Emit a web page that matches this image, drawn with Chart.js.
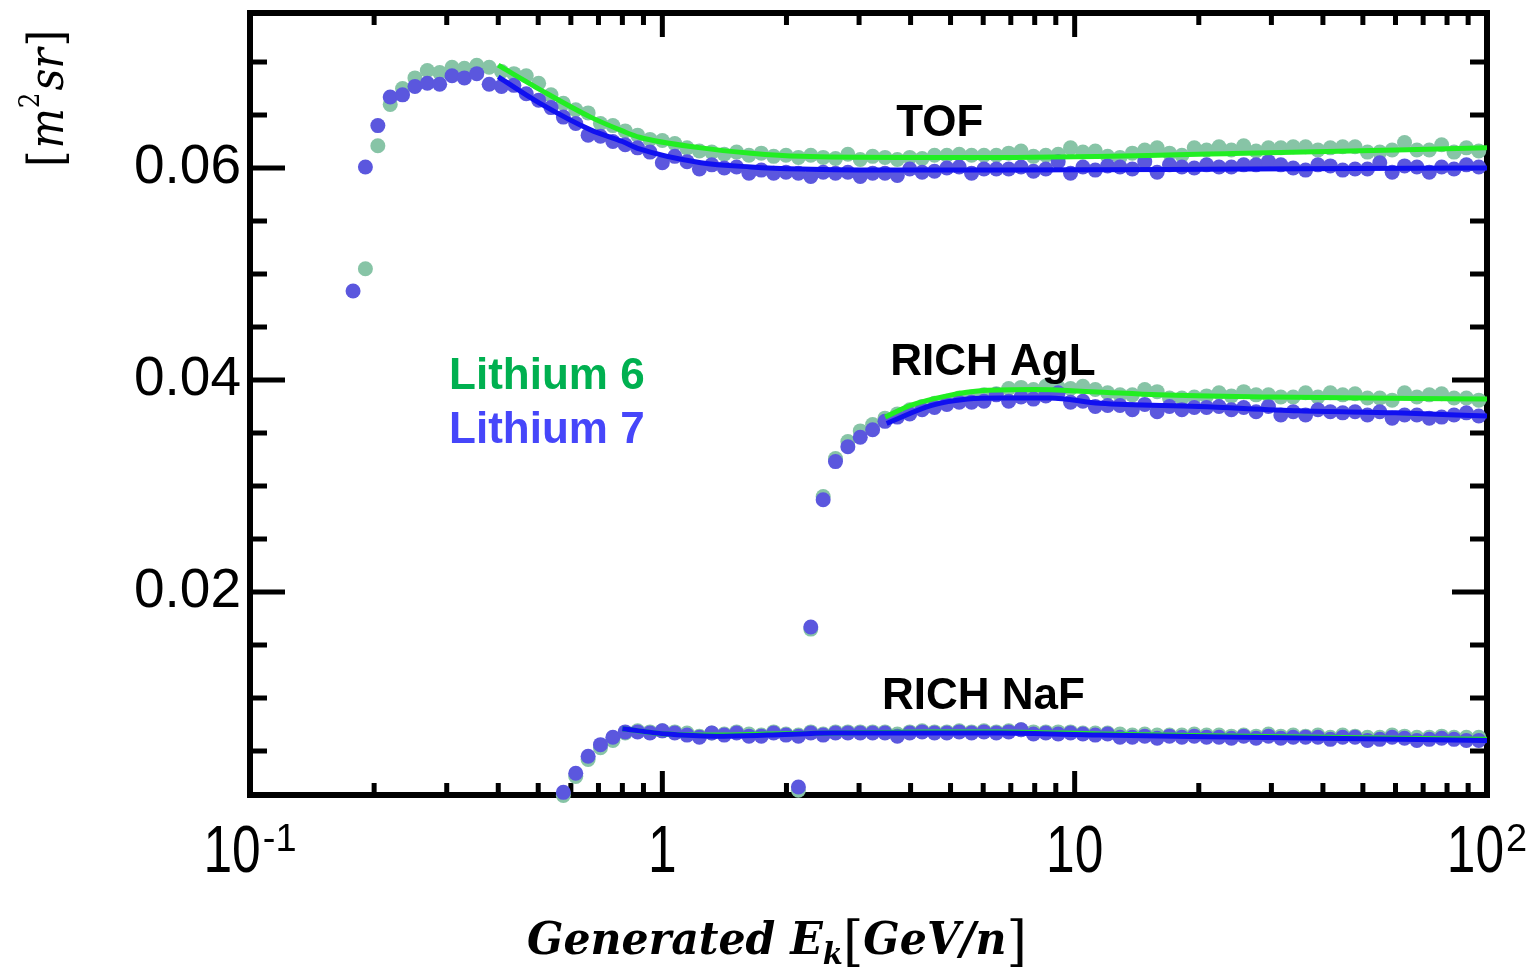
<!DOCTYPE html>
<html>
<head>
<meta charset="utf-8">
<title>Lithium isotopes acceptance</title>
<script src="https://cdn.jsdelivr.net/npm/chart.js@4.4.1/dist/chart.umd.min.js"></script>
<style>
  html, body { margin: 0; padding: 0; background: #ffffff; overflow: hidden; }
  canvas { display: block; }
</style>
</head>
<body>
<canvas id="chart" width="1533" height="968"></canvas>
<script>
// Bin centres of generated kinetic energy, GeV/n
const energy = [
  0.1778, 0.1905, 0.2042, 0.2188, 0.2344, 0.2512, 0.2692, 0.2884, 0.3090, 0.3311,
  0.3548, 0.3802, 0.4074, 0.4365, 0.4677, 0.5012, 0.5370, 0.5754, 0.6166, 0.6607,
  0.7079, 0.7586, 0.8128, 0.8710, 0.9333, 1.000, 1.072, 1.148, 1.230, 1.318,
  1.413, 1.514, 1.622, 1.738, 1.862, 1.995, 2.138, 2.291, 2.455, 2.630,
  2.818, 3.020, 3.236, 3.467, 3.715, 3.981, 4.266, 4.571, 4.898, 5.248,
  5.623, 6.026, 6.457, 6.918, 7.413, 7.943, 8.511, 9.120, 9.772, 10.47,
  11.22, 12.02, 12.88, 13.80, 14.79, 15.85, 16.98, 18.20, 19.50, 20.89,
  22.39, 23.99, 25.70, 27.54, 29.51, 31.62, 33.88, 36.31, 38.90, 41.69,
  44.67, 47.86, 51.29, 54.95, 58.88, 63.10, 67.61, 72.44, 77.62, 83.18,
  89.13, 95.50
];

// Acceptance [m^2 sr] per bin, TOF selection
const tofLi6 = [
  null, 0.0505, 0.0621, 0.0660, 0.0675, 0.0685, 0.0692, 0.0690, 0.0695, 0.0694,
  0.0697, 0.0695, 0.0691, 0.0689, 0.0687, 0.0680, 0.0669, 0.0661, 0.0655, 0.0652,
  0.0642, 0.0640, 0.0635, 0.0631, 0.0627, 0.0626, 0.0623, 0.0619, 0.0616, 0.0615,
  0.0613, 0.0615, 0.0612, 0.0614, 0.0611, 0.0612, 0.0610, 0.0612, 0.0610, 0.0609,
  0.0613, 0.0608, 0.0611, 0.0610, 0.0608, 0.0610, 0.0609, 0.0612, 0.0612, 0.0613,
  0.0612, 0.0612, 0.0612, 0.0614, 0.0616, 0.0611, 0.0612, 0.0613, 0.0619, 0.0615,
  0.0616, 0.0611, 0.0610, 0.0614, 0.0617, 0.0619, 0.0614, 0.0612, 0.0619, 0.0617,
  0.0620, 0.0617, 0.0621, 0.0616, 0.0619, 0.0619, 0.0620, 0.0620, 0.0617, 0.0619,
  0.0620, 0.0620, 0.0615, 0.0615, 0.0617, 0.0624, 0.0617, 0.0617, 0.0622, 0.0615,
  0.0619, 0.0616
];
const tofLi7 = [
  0.0484, 0.0601, 0.0640, 0.0667, 0.0669, 0.0677, 0.0680, 0.0679, 0.0687, 0.0685,
  0.0689, 0.0679, 0.0677, 0.0678, 0.0670, 0.0664, 0.0657, 0.0648, 0.0642, 0.0631,
  0.0630, 0.0625, 0.0622, 0.0619, 0.0615, 0.0605, 0.0611, 0.0606, 0.0599, 0.0603,
  0.0600, 0.0601, 0.0595, 0.0598, 0.0595, 0.0596, 0.0595, 0.0592, 0.0596, 0.0595,
  0.0596, 0.0592, 0.0595, 0.0595, 0.0593, 0.0599, 0.0596, 0.0597, 0.0600, 0.0601,
  0.0595, 0.0599, 0.0599, 0.0599, 0.0601, 0.0597, 0.0599, 0.0606, 0.0595, 0.0601,
  0.0598, 0.0602, 0.0601, 0.0599, 0.0606, 0.0596, 0.0603, 0.0601, 0.0600, 0.0603,
  0.0601, 0.0601, 0.0603, 0.0603, 0.0606, 0.0603, 0.0600, 0.0598, 0.0603, 0.0602,
  0.0598, 0.0599, 0.0599, 0.0605, 0.0596, 0.0602, 0.0601, 0.0596, 0.0601, 0.0599,
  0.0603, 0.0601
];

// RICH aerogel (AgL) selection
const aglLi6 = [
  null, null, null, null, null, null, null, null, null, null,
  null, null, null, null, null, null, null, null, null, null,
  null, null, null, null, null, null, null, null, null, null,
  null, null, null, null, null, null, 0.0013, 0.0165, 0.0290, 0.0326,
  0.0342, 0.0352, 0.0358, 0.0364, 0.0368, 0.0372, 0.0375, 0.0378, 0.0380, 0.0383,
  0.0384, 0.0386, 0.0387, 0.0392, 0.0393, 0.0391, 0.0394, 0.0393, 0.0392, 0.0394,
  0.0391, 0.0388, 0.0386, 0.0386, 0.0391, 0.0389, 0.0383, 0.0383, 0.0384, 0.0385,
  0.0388, 0.0385, 0.0389, 0.0386, 0.0386, 0.0384, 0.0384, 0.0388, 0.0384, 0.0388,
  0.0386, 0.0387, 0.0383, 0.0383, 0.0381, 0.0388, 0.0384, 0.0386, 0.0387, 0.0383,
  0.0383, 0.0381
];
const aglLi7 = [
  null, null, null, null, null, null, null, null, null, null,
  null, null, null, null, null, null, null, null, null, null,
  null, null, null, null, null, null, null, null, null, null,
  null, null, null, null, null, null, 0.0016, 0.0167, 0.0287, 0.0323,
  0.0337, 0.0346, 0.0353, 0.0361, 0.0365, 0.0368, 0.0372, 0.0374, 0.0377, 0.0379,
  0.0379, 0.0380, 0.0386, 0.0380, 0.0384, 0.0382, 0.0385, 0.0388, 0.0379, 0.0380,
  0.0375, 0.0376, 0.0376, 0.0372, 0.0377, 0.0370, 0.0375, 0.0372, 0.0374, 0.0374,
  0.0375, 0.0372, 0.0374, 0.0370, 0.0375, 0.0367, 0.0370, 0.0367, 0.0372, 0.0370,
  0.0369, 0.0370, 0.0367, 0.0370, 0.0364, 0.0367, 0.0367, 0.0364, 0.0365, 0.0367,
  0.0369, 0.0366
];

// RICH sodium fluoride (NaF) selection
const nafLi6 = [
  null, null, null, null, null, null, null, null, null, null,
  null, null, null, null, null, null, null, 0.0008, 0.0026, 0.0042,
  0.0053, 0.0060, 0.0067, 0.0069, 0.0068, 0.0069, 0.0068, 0.0067, 0.0064, 0.0067,
  0.0066, 0.0068, 0.0066, 0.0065, 0.0068, 0.0066, 0.0065, 0.0068, 0.0066, 0.0068,
  0.0068, 0.0068, 0.0068, 0.0068, 0.0066, 0.0068, 0.0069, 0.0068, 0.0068, 0.0069,
  0.0068, 0.0069, 0.0068, 0.0069, 0.0070, 0.0068, 0.0068, 0.0068, 0.0068, 0.0067,
  0.0067, 0.0067, 0.0066, 0.0065, 0.0066, 0.0065, 0.0065, 0.0065, 0.0066, 0.0065,
  0.0065, 0.0064, 0.0065, 0.0064, 0.0066, 0.0064, 0.0065, 0.0064, 0.0065, 0.0063,
  0.0065, 0.0064, 0.0063, 0.0063, 0.0065, 0.0064, 0.0063, 0.0063, 0.0064, 0.0063,
  0.0063, 0.0063
];
const nafLi7 = [
  null, null, null, null, null, null, null, null, null, null,
  null, null, null, null, null, null, null, 0.0011, 0.0029, 0.0045,
  0.0056, 0.0063, 0.0068, 0.0068, 0.0067, 0.0069, 0.0067, 0.0065, 0.0063, 0.0067,
  0.0065, 0.0067, 0.0064, 0.0064, 0.0067, 0.0065, 0.0064, 0.0067, 0.0065, 0.0067,
  0.0067, 0.0067, 0.0067, 0.0067, 0.0064, 0.0067, 0.0068, 0.0067, 0.0067, 0.0068,
  0.0067, 0.0068, 0.0067, 0.0068, 0.0070, 0.0066, 0.0067, 0.0066, 0.0067, 0.0066,
  0.0065, 0.0066, 0.0063, 0.0063, 0.0064, 0.0062, 0.0064, 0.0063, 0.0064, 0.0063,
  0.0063, 0.0062, 0.0064, 0.0062, 0.0064, 0.0062, 0.0063, 0.0063, 0.0063, 0.0061,
  0.0063, 0.0063, 0.0060, 0.0061, 0.0063, 0.0062, 0.0060, 0.0061, 0.0062, 0.0061,
  0.0060, 0.0060
];

// Smooth fits, sampled at their own energies
const tofFitE   = [0.40, 0.505, 0.67, 0.80, 0.88, 1.24, 1.64, 2.17, 3.8, 6.6, 26, 100];
const tofFitLi6 = [0.0697, 0.0674, 0.0648, 0.0635, 0.0629, 0.0619, 0.0614, 0.0611, 0.0610, 0.0610, 0.0614, 0.0619];
const tofFitLi7 = [0.0686, 0.0661, 0.0636, 0.0625, 0.0618, 0.0605, 0.0601, 0.0599, 0.0598, 0.0598, 0.0599, 0.0600];

const aglFitLi6E = [3.47, 4.0, 4.9, 6.0, 8.0, 11, 16, 30, 100];
const aglFitLi6  = [0.0365, 0.0376, 0.0385, 0.0390, 0.0391, 0.0389, 0.0386, 0.0384, 0.0382];
const aglFitLi7E = [3.5, 4.5, 5.5, 6.6, 8.7, 11.5, 20, 35, 60, 100];
const aglFitLi7  = [0.0359, 0.0376, 0.0382, 0.0383, 0.0383, 0.0378, 0.0375, 0.0371, 0.0369, 0.0366];

const nafFitE   = [0.80, 1.03, 1.35, 1.8, 2.6, 4.5, 6.6, 11.5, 26, 100];
const nafFitLi6 = [0.0071, 0.0066, 0.0065, 0.0066, 0.0067, 0.0068, 0.0068, 0.0066, 0.0064, 0.0061];
const nafFitLi7 = [0.0071, 0.0066, 0.0064, 0.0065, 0.0067, 0.0067, 0.0067, 0.0065, 0.0063, 0.0060];

// Axis ticks
const yTickValues = [0.02, 0.04, 0.06];
const xTickValues = [0.1, 1, 10, 100];
const xTickBase   = ['10', '1', '10', '10'];
const xTickExp    = ['-1', '', '', '2'];

// Text annotations (anchored in data coordinates)
const detectorLabels = [
  { text: 'TOF',      e: 3.69, v: 0.0630 },
  { text: 'RICH AgL', e: 3.57, v: 0.04047 },
  { text: 'RICH NaF', e: 3.41, v: 0.00896 }
];
const isotopeLabels = [
  { text: 'Lithium 6', e: 0.304, v: 0.03915, color: '#00B050' },
  { text: 'Lithium 7', e: 0.304, v: 0.03406, color: '#4646FA' }
];

const DOT_LI6 = '#87C4A6';
const DOT_LI7 = '#5B57DE';
const FIT_LI6 = '#22EE22';
const FIT_LI7 = '#1010F0';
const SANS = '"Liberation Sans", Arial, Helvetica, sans-serif';
const SERIF = '"DejaVu Serif", "Liberation Serif", serif';

function binPoints(vals) {
  return energy.map((e, i) => (vals[i] == null ? null : { x: e, y: vals[i] })).filter(p => p);
}
function fitPoints(es, vals) {
  return es.map((e, i) => ({ x: e, y: vals[i] }));
}
function dots(label, vals, color, order) {
  return { label, data: binPoints(vals), backgroundColor: color, borderWidth: 0,
           pointRadius: 7.5, pointHoverRadius: 7.5, showLine: false, clip: false, order };
}
function fit(label, es, vals, color, order) {
  return { label, data: fitPoints(es, vals), borderColor: color, borderWidth: 5,
           pointRadius: 0, showLine: true, fill: false, cubicInterpolationMode: 'monotone',
           clip: false, order };
}

const datasets = [
  fit('TOF fit Li7', tofFitE, tofFitLi7, FIT_LI7, 0),
  fit('AgL fit Li7', aglFitLi7E, aglFitLi7, FIT_LI7, 0),
  fit('NaF fit Li7', nafFitE, nafFitLi7, FIT_LI7, 0),
  fit('TOF fit Li6', tofFitE, tofFitLi6, FIT_LI6, 1),
  fit('AgL fit Li6', aglFitLi6E, aglFitLi6, FIT_LI6, 1),
  fit('NaF fit Li6', nafFitE, nafFitLi6, FIT_LI6, 1),
  dots('TOF Li7', tofLi7, DOT_LI7, 2),
  dots('AgL Li7', aglLi7, DOT_LI7, 2),
  dots('NaF Li7', nafLi7, DOT_LI7, 2),
  dots('TOF Li6', tofLi6, DOT_LI6, 3),
  dots('AgL Li6', aglLi6, DOT_LI6, 3),
  dots('NaF Li6', nafLi6, DOT_LI6, 3)
];

// Draws a run of differently styled pieces on one baseline, squeezed to a width
function drawRun(ctx, pieces, targetWidth) {
  let total = 0;
  for (const p of pieces) {
    ctx.font = p.font;
    p.w = ctx.measureText(p.t).width;
    total += p.w + (p.gap || 0);
  }
  const sx = targetWidth / total;
  ctx.save();
  ctx.scale(sx, 1);
  let cx = 0;
  for (const p of pieces) {
    ctx.font = p.font;
    ctx.fillText(p.t, cx, p.dy || 0);
    cx += p.w + (p.gap || 0);
  }
  ctx.restore();
}

const framePlugin = {
  id: 'frame',
  beforeDatasetsDraw(chart) {
    const { ctx, chartArea: a, scales: { x, y } } = chart;
    ctx.save();
    ctx.strokeStyle = '#000';
    ctx.lineCap = 'butt';
    ctx.lineWidth = 5;
    const seg = (x1, y1, x2, y2) => { ctx.beginPath(); ctx.moveTo(x1, y1); ctx.lineTo(x2, y2); ctx.stroke(); };

    // log-axis ticks on bottom and top
    for (const d of [0.1, 1, 10]) {
      for (let m = 1; m <= 9; m++) {
        const px = x.getPixelForValue(d * m);
        const len = m === 1 ? 24 : 12;
        seg(px, a.bottom, px, a.bottom - len);
        seg(px, a.top, px, a.top + len);
      }
    }
    // linear-axis ticks on left and right
    for (let k = 1; k <= 14; k++) {
      const py = y.getPixelForValue(k * 0.005);
      const len = k % 4 === 0 ? 35 : 17;
      seg(a.left, py, a.left + len, py);
      seg(a.right, py, a.right - len, py);
    }
    ctx.lineWidth = 6;
    ctx.strokeRect(a.left, a.top, a.right - a.left, a.bottom - a.top);
    ctx.restore();
  },
  afterDraw(chart) {
    const { ctx, scales: { x, y } } = chart;
    ctx.save();
    ctx.fillStyle = '#000';
    ctx.textBaseline = 'alphabetic';
    ctx.textAlign = 'left';

    // x tick labels, 10 with raised exponent
    const sq = 0.78;
    xTickValues.forEach((v, i) => {
      const px = x.getPixelForValue(v);
      ctx.font = '66px ' + SANS;
      const wb = ctx.measureText(xTickBase[i]).width * sq;
      ctx.font = '38px ' + SANS;
      const we = xTickExp[i] ? ctx.measureText(xTickExp[i]).width + 2 : 0;
      const x0 = px - (wb + we) / 2;
      ctx.save();
      ctx.translate(x0, 872);
      ctx.scale(sq, 1);
      ctx.font = '66px ' + SANS;
      ctx.fillText(xTickBase[i], 0, 0);
      ctx.restore();
      if (xTickExp[i]) {
        ctx.font = '38px ' + SANS;
        ctx.fillText(xTickExp[i], x0 + wb + 2, 851);
      }
    });

    // x axis title
    const bi = 'italic bold 44px ' + SERIF;
    ctx.save();
    ctx.translate(527, 954);
    drawRun(ctx, [
      { t: 'Generated ', font: bi },
      { t: 'E', font: bi },
      { t: 'k', font: 'italic bold 30px ' + SERIF, dy: 10 },
      { t: '[', font: '54px ' + SERIF, dy: 6 },
      { t: 'GeV/n', font: bi },
      { t: ']', font: '54px ' + SERIF, dy: 6 }
    ], 500);
    ctx.restore();

    // y axis title, rotated
    ctx.save();
    ctx.translate(63, 167);
    ctx.rotate(-Math.PI / 2);
    drawRun(ctx, [
      { t: '[', font: '48px ' + SERIF, gap: 2 },
      { t: 'm', font: 'italic 48px ' + SERIF },
      { t: '2', font: '28px ' + SERIF, dy: -24, gap: 2 },
      { t: 'sr', font: 'italic 48px ' + SERIF, gap: 2 },
      { t: ']', font: '48px ' + SERIF }
    ], 137);
    ctx.restore();

    // detector names
    ctx.font = 'bold 44px ' + SANS;
    ctx.fillStyle = '#000';
    for (const l of detectorLabels) {
      ctx.fillText(l.text, x.getPixelForValue(l.e), y.getPixelForValue(l.v));
    }
    // isotope key
    for (const l of isotopeLabels) {
      ctx.fillStyle = l.color;
      ctx.fillText(l.text, x.getPixelForValue(l.e), y.getPixelForValue(l.v));
    }
    ctx.restore();
  }
};

new Chart(document.getElementById('chart'), {
  type: 'scatter',
  data: { datasets },
  plugins: [framePlugin],
  options: {
    responsive: false,
    animation: false,
    devicePixelRatio: 1,
    events: [],
    layout: { autoPadding: false, padding: { left: 0, right: 46, top: 13, bottom: 0 } },
    plugins: { legend: { display: false }, tooltip: { enabled: false } },
    scales: {
      x: {
        type: 'logarithmic',
        min: 0.1,
        max: 100,
        ticks: { display: false },
        grid: { display: false, drawTicks: false },
        border: { display: false },
        afterFit(s) { s.height = 173; s.paddingLeft = 0; s.paddingRight = 0; }
      },
      y: {
        type: 'linear',
        min: 0.000849,
        max: 0.074623,
        afterBuildTicks(s) { s.ticks = yTickValues.map(v => ({ value: v })); },
        ticks: {
          color: '#000',
          padding: 9,
          font: { family: SANS, size: 55 },
          callback: v => Number(v).toFixed(2)
        },
        grid: { display: false, drawTicks: false },
        border: { display: false },
        afterFit(s) { s.width = 250; s.paddingTop = 0; s.paddingBottom = 0; }
      }
    }
  }
});
</script>
</body>
</html>
